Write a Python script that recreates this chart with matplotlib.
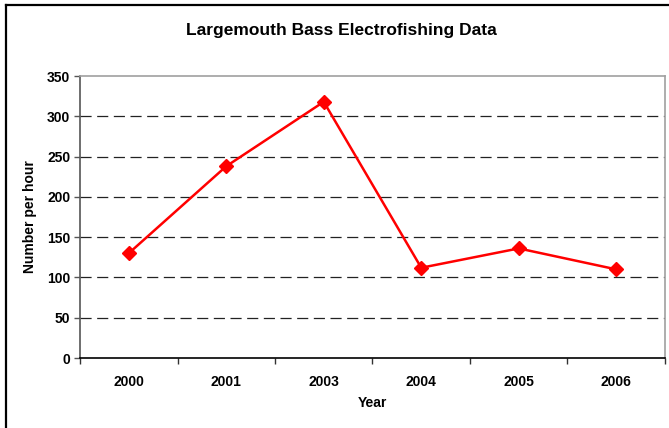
import matplotlib
matplotlib.use("Agg")
import matplotlib.pyplot as plt
from matplotlib.lines import Line2D
import numpy as np

# Data
years = ["2000", "2001", "2003", "2004", "2005", "2006"]
catch_rate = [130, 238, 318, 112, 136, 110]
y_ticks = [0, 50, 100, 150, 200, 250, 300, 350]

plt.rcParams['font.family'] = ['Liberation Sans', 'DejaVu Sans']
plt.rcParams['lines.scale_dashes'] = False

W, H = 669, 428
fig = plt.figure(figsize=(W / 100, H / 100), dpi=100)
fig.patch.set_facecolor("white")

# outer chart frame (top and left visible, right/bottom cut off)
fig.add_artist(Line2D([6 / W, 1.0], [1 - 5 / H, 1 - 5 / H], color="black", lw=1.6,
                      transform=fig.transFigure))
fig.add_artist(Line2D([6 / W, 6 / W], [0.0, 1 - 5 / H], color="black", lw=1.6,
                      transform=fig.transFigure))

ax = fig.add_axes([80 / W, 1 - 358 / H, 585 / W, 282 / H])

x = np.arange(len(years))
ax.plot(x, catch_rate, color="#ff0000", lw=1.8, marker="D", markersize=7,
        markeredgecolor="#ff0000", zorder=3)

ax.set_xlim(-0.5, len(years) - 0.5)
ax.set_ylim(0, 350)

# category axis: tick marks between categories, labels centred
ax.set_xticks(np.arange(-0.5, len(years)), minor=False)
ax.set_xticklabels([])
ax.set_xticks(x, minor=True)
ax.set_xticklabels(years, minor=True, fontsize=10, fontweight="bold")
ax.tick_params(axis="x", which="minor", length=0, pad=12)
ax.tick_params(axis="x", which="major", length=4, width=1, color="#333333", direction="out")

ax.set_yticks(y_ticks)
ax.set_yticklabels([str(v) for v in y_ticks], fontsize=10, fontweight="bold")
ax.tick_params(axis="y", length=4, width=1, color="#555555", direction="out", pad=3)

for v in y_ticks[1:-1]:
    ax.axhline(v, color="#222222", lw=0.9, dashes=(8, 4), zorder=1)

ax.spines["top"].set_color("#a0a0a0")
ax.spines["right"].set_color("#a0a0a0")
ax.spines["left"].set_color("#555555")
ax.spines["bottom"].set_color("black")
for s in ax.spines.values():
    s.set_linewidth(1.2)

ax.set_xlabel("Year", fontsize=10, fontweight="bold", labelpad=5)
ax.set_ylabel("Number per hour", fontsize=10, fontweight="bold", labelpad=7)

fig.text(341 / W, 1 - 30 / H, "Largemouth Bass Electrofishing Data", fontsize=12.5,
         fontweight="bold", ha="center", va="center")

fig.savefig("out.png", dpi=100)
